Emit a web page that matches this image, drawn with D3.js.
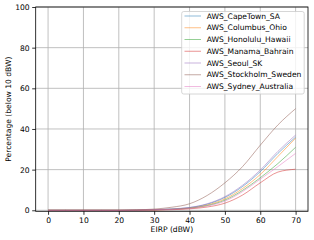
<!DOCTYPE html>
<html><head><meta charset="utf-8">
<script src="https://cdn.jsdelivr.net/npm/d3@7"></script>
<style>body{margin:0;background:#fff}svg{display:block}text{font-family:"DejaVu Sans",sans-serif}</style>
</head><body><svg id="c" width="314" height="240"></svg>
<script>
const eirp = [0,5,10,15,20,25,30,35,40,45,50,55,60,65,70];
const seriesNames = ["AWS_CapeTown_SA","AWS_Columbus_Ohio","AWS_Honolulu_Hawaii","AWS_Manama_Bahrain","AWS_Seoul_SK","AWS_Stockholm_Sweden","AWS_Sydney_Australia"];
const capeTown  = [0,0,0,0,0,0.1,0.3,0.6,1.3,3.0,6.3,11.7,19.0,28.0,36.0];
const columbus  = [0,0,0,0,0,0.1,0.2,0.5,1.1,2.6,5.6,10.7,17.6,26.5,35.5];
const honolulu  = [0,0,0,0,0,0.1,0.2,0.5,1.0,2.3,5.0,9.8,16.0,23.0,31.0];
const manama    = [0,0,0,0,0,0,0.1,0.3,0.7,1.6,3.5,7.5,13.5,18.8,20.2];
const seoul     = [0,0,0,0,0,0.1,0.3,0.7,1.4,3.2,6.7,12.3,19.8,29.0,37.0];
const stockholm = [0,0,0,0,0,0.2,0.6,1.5,3.2,7.3,13.5,21.5,32.0,42.0,50.0];
const sydney    = [0,0,0,0,0,0.1,0.2,0.4,0.9,2.1,4.5,9.2,15.3,21.5,28.0];
const xTicks = [0,10,20,30,40,50,60,70];
const yTicks = [0,20,40,60,80,100];
const colors = ["#1f77b4","#ff7f0e","#2ca02c","#d62728","#9467bd","#8c564b","#e377c2"];
const allSeries = [capeTown,columbus,honolulu,manama,seoul,stockholm,sydney];

const svg = d3.select("#c");
const L=35.7, R=308, T=7, B=211.3;
const x = d3.scaleLinear().domain([-3.5,73.5]).range([L,R]);
const y = d3.scaleLinear().domain([-0.5,100]).range([B,T]);
const fs = 7.6;

// grid
svg.append("g").selectAll("line").data(xTicks).join("line")
  .attr("x1",d=>x(d)).attr("x2",d=>x(d)).attr("y1",T).attr("y2",B)
  .attr("stroke","#b0b0b0").attr("stroke-width",0.8);
svg.append("g").selectAll("line").data(yTicks).join("line")
  .attr("y1",d=>y(d)).attr("y2",d=>y(d)).attr("x1",L).attr("x2",R)
  .attr("stroke","#b0b0b0").attr("stroke-width",0.8);

// lines
const line = d3.line().x((d,i)=>x(eirp[i])).y(d=>y(d)).curve(d3.curveMonotoneX);
const plot = svg.append("g");
allSeries.forEach((s,k)=>{
  plot.append("path").attr("d",line(s)).attr("fill","none")
    .attr("stroke",colors[k]).attr("stroke-opacity",0.5).attr("stroke-width",1);
});

// axes
const xAxis = svg.append("g").attr("transform",`translate(0,${B})`)
  .call(d3.axisBottom(x).tickValues(xTicks).tickSize(3.5).tickPadding(2.5).tickFormat(d3.format("d")));
const yAxis = svg.append("g").attr("transform",`translate(${L},0)`)
  .call(d3.axisLeft(y).tickValues(yTicks).tickSize(3.5).tickPadding(2.5).tickFormat(d3.format("d")));
[xAxis,yAxis].forEach(a=>{
  a.select(".domain").remove();
  a.selectAll("text").attr("font-size",fs).attr("fill","#000").attr("font-family","DejaVu Sans");
  a.selectAll("line").attr("stroke","#000").attr("stroke-width",0.8);
});
svg.append("rect").attr("x",L).attr("y",T).attr("width",R-L).attr("height",B-T)
  .attr("fill","none").attr("stroke","#000").attr("stroke-width",0.8);

// labels
svg.append("text").attr("x",(L+R)/2).attr("y",232).attr("text-anchor","middle")
  .attr("font-size",fs).text("EIRP (dBW)");
svg.append("text").attr("transform",`translate(10.5,${(T+B)/2}) rotate(-90)`).attr("text-anchor","middle")
  .attr("font-size",fs).text("Percentage (below 10 dBW)");

// legend
const lg = svg.append("g");
lg.append("rect").attr("x",181.7).attr("y",11.5).attr("width",122.5).attr("height",82.5)
  .attr("rx",2).attr("fill","#fff").attr("fill-opacity",0.8).attr("stroke","#cccccc").attr("stroke-width",0.8);
seriesNames.forEach((n,k)=>{
  const yy = 16 + k*11.75;
  lg.append("line").attr("x1",184.5).attr("x2",201).attr("y1",yy).attr("y2",yy)
    .attr("stroke",colors[k]).attr("stroke-opacity",0.5).attr("stroke-width",1);
  lg.append("text").attr("x",206.7).attr("y",yy+2.7).attr("font-size",fs).text(n);
});
</script></body></html>
